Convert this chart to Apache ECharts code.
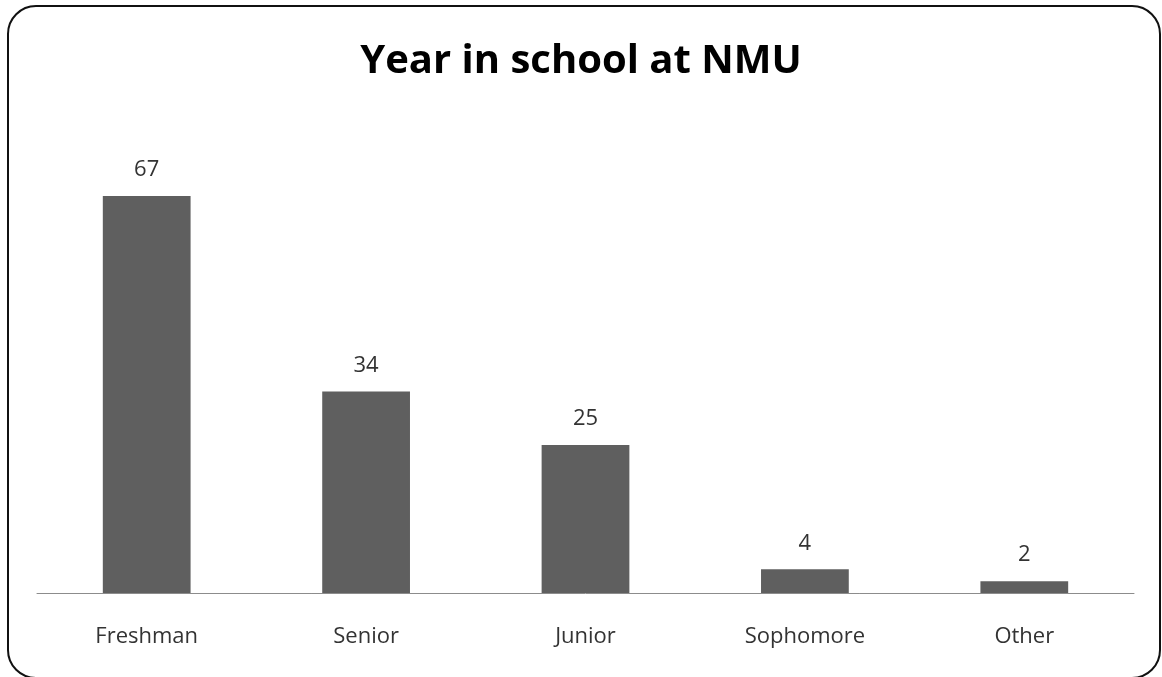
<!DOCTYPE html>
<html>
<head>
<meta charset="utf-8">
<script src="https://cdn.jsdelivr.net/npm/echarts@6/dist/echarts.min.js"></script>
<style>
  html, body { margin: 0; padding: 0; background: #fff; }
  #chart { width: 1162px; height: 677px; }
</style>
</head>
<body>
<div id="chart"></div>
<script>
// Enrollment by year in school
const categories = ['Freshman', 'Senior', 'Junior', 'Sophomore', 'Other'];
const counts = [67, 34, 25, 4, 2];
const titleText = 'Year in school at NMU';

const chart = echarts.init(document.getElementById('chart'));

chart.setOption({
  animation: false,
  backgroundColor: '#ffffff',
  title: {
    text: titleText,
    left: 'center',
    top: 37,
    textStyle: {
      fontFamily: 'Open Sans',
      fontWeight: 'bold',
      fontSize: 40,
      color: '#000000'
    }
  },
  graphic: [{
    type: 'rect',
    shape: { x: 8, y: 6, width: 1152, height: 672, r: 28 },
    style: { fill: 'none', stroke: '#111111', lineWidth: 2 },
    z: 100
  }],
  grid: {
    left: 37,
    right: 28,
    top: 119,
    bottom: 84
  },
  xAxis: {
    type: 'category',
    data: categories,
    axisLine: { show: true, lineStyle: { color: '#8c8c8c', width: 1 } },
    axisTick: { show: false },
    axisLabel: {
      margin: 33,
      fontFamily: 'Open Sans',
      fontSize: 22,
      color: '#333333'
    }
  },
  yAxis: {
    type: 'value',
    min: 0,
    max: 80,
    show: false,
    splitLine: { show: false }
  },
  series: [{
    type: 'bar',
    data: counts,
    barWidth: '40%',
    itemStyle: { color: '#5f5f5f' },
    label: {
      show: true,
      position: 'top',
      distance: 15,
      fontFamily: 'Open Sans',
      fontSize: 22,
      color: '#333333'
    }
  }]
});
</script>
</body>
</html>
